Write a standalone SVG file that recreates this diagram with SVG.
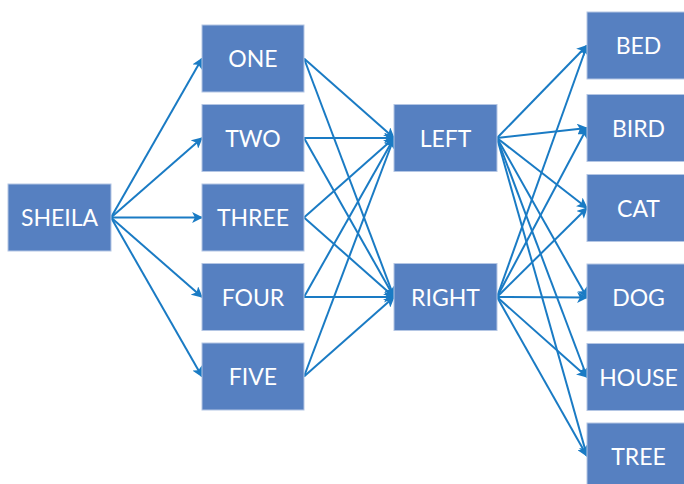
<svg xmlns="http://www.w3.org/2000/svg" width="684" height="484" viewBox="0 0 684 484">
  <defs>
    <marker id="arrow" viewBox="0 0 10 10" refX="9" refY="5" markerWidth="5.5" markerHeight="5.5" orient="auto" markerUnits="strokeWidth">
      <path d="M0,0 L10,5 L0,10 L2.5,5 Z" fill="#1A7BC4"/>
    </marker>
  </defs>
  <style>
    .box { fill: #5680C1; stroke: #B4C6E4; stroke-width: 1; }
    .lbl { fill: #FFFFFF; font-family: Lato, "Open Sans", "Liberation Sans", sans-serif; font-size: 23px; text-anchor: middle; dominant-baseline: central; }
    .edge { stroke: #1A7BC4; stroke-width: 2; fill: none; marker-end: url(#arrow); }
  </style>
  <rect width="684" height="484" fill="#FFFFFF"/>

  <g id="connectors">
    <!-- SHEILA to the number nodes -->
    <line class="edge" x1="111" y1="217.5" x2="202" y2="58.5"/>
    <line class="edge" x1="111" y1="217.5" x2="202" y2="138"/>
    <line class="edge" x1="111" y1="217.5" x2="202" y2="217.5"/>
    <line class="edge" x1="111" y1="217.5" x2="202" y2="297"/>
    <line class="edge" x1="111" y1="217.5" x2="202" y2="376.5"/>
    <!-- number nodes to LEFT -->
    <line class="edge" x1="304" y1="58.5" x2="394" y2="138"/>
    <line class="edge" x1="304" y1="138" x2="394" y2="138"/>
    <line class="edge" x1="304" y1="217.5" x2="394" y2="138"/>
    <line class="edge" x1="304" y1="297" x2="394" y2="138"/>
    <line class="edge" x1="304" y1="376.5" x2="394" y2="138"/>
    <!-- number nodes to RIGHT -->
    <line class="edge" x1="304" y1="58.5" x2="394" y2="297"/>
    <line class="edge" x1="304" y1="138" x2="394" y2="297"/>
    <line class="edge" x1="304" y1="217.5" x2="394" y2="297"/>
    <line class="edge" x1="304" y1="297" x2="394" y2="297"/>
    <line class="edge" x1="304" y1="376.5" x2="394" y2="297"/>
    <!-- LEFT to the word nodes -->
    <line class="edge" x1="497" y1="138" x2="587" y2="45.5"/>
    <line class="edge" x1="497" y1="138" x2="587" y2="128"/>
    <line class="edge" x1="497" y1="138" x2="587" y2="208"/>
    <line class="edge" x1="497" y1="138" x2="587" y2="297.5"/>
    <line class="edge" x1="497" y1="138" x2="587" y2="377"/>
    <line class="edge" x1="497" y1="138" x2="587" y2="456"/>
    <!-- RIGHT to the word nodes -->
    <line class="edge" x1="497" y1="297" x2="587" y2="45.5"/>
    <line class="edge" x1="497" y1="297" x2="587" y2="128"/>
    <line class="edge" x1="497" y1="297" x2="587" y2="208"/>
    <line class="edge" x1="497" y1="297" x2="587" y2="297.5"/>
    <line class="edge" x1="497" y1="297" x2="587" y2="377"/>
    <line class="edge" x1="497" y1="297" x2="587" y2="456"/>
  </g>

  <g id="sheila"><rect class="box" x="8" y="184" width="103" height="67"/><text class="lbl" x="59.5" y="217">SHEILA</text></g>

  <g id="one"><rect class="box" x="202" y="25" width="102" height="67"/><text class="lbl" x="253" y="58">ONE</text></g>
  <g id="two"><rect class="box" x="202" y="104.5" width="102" height="67"/><text class="lbl" x="253" y="137.5">TWO</text></g>
  <g id="three"><rect class="box" x="202" y="184" width="102" height="67"/><text class="lbl" x="253" y="217">THREE</text></g>
  <g id="four"><rect class="box" x="202" y="263.5" width="102" height="67"/><text class="lbl" x="253" y="296.5">FOUR</text></g>
  <g id="five"><rect class="box" x="202" y="343" width="102" height="67"/><text class="lbl" x="253" y="376">FIVE</text></g>

  <g id="left"><rect class="box" x="394" y="104.5" width="103" height="67"/><text class="lbl" x="445.5" y="137.5">LEFT</text></g>
  <g id="right"><rect class="box" x="394" y="263.5" width="103" height="67"/><text class="lbl" x="445.5" y="296.5">RIGHT</text></g>

  <g id="bed"><rect class="box" x="587" y="12" width="103" height="67"/><text class="lbl" x="638.5" y="45">BED</text></g>
  <g id="bird"><rect class="box" x="587" y="94.5" width="103" height="67"/><text class="lbl" x="638.5" y="127.5">BIRD</text></g>
  <g id="cat"><rect class="box" x="587" y="174.5" width="103" height="67"/><text class="lbl" x="638.5" y="207.5">CAT</text></g>
  <g id="dog"><rect class="box" x="587" y="264" width="103" height="67"/><text class="lbl" x="638.5" y="297">DOG</text></g>
  <g id="house"><rect class="box" x="587" y="343.5" width="103" height="67"/><text class="lbl" x="638.5" y="376.5">HOUSE</text></g>
  <g id="tree"><rect class="box" x="587" y="423" width="103" height="67"/><text class="lbl" x="638.5" y="456">TREE</text></g>
</svg>
